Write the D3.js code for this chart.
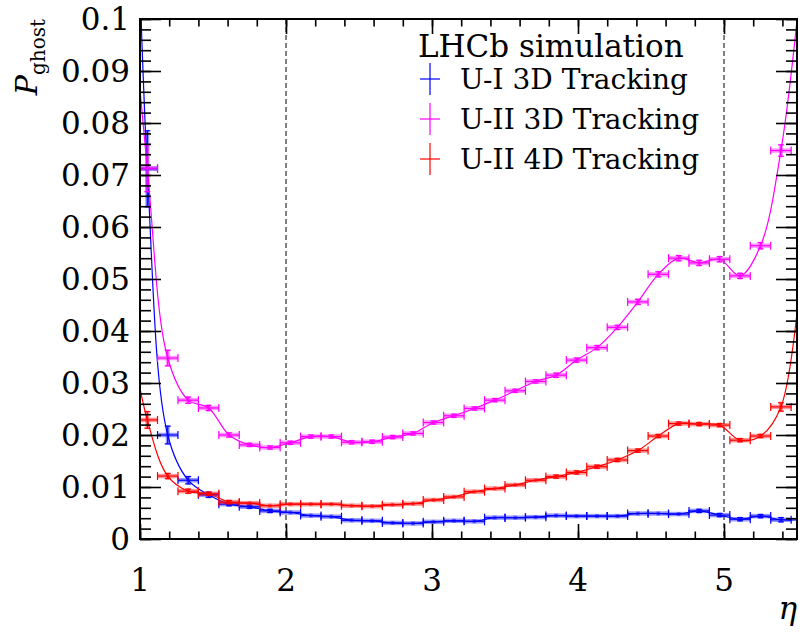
<!DOCTYPE html>
<html><head><meta charset="utf-8">
<script src="https://cdn.jsdelivr.net/npm/d3@7"></script>
<style>body{margin:0;background:#fff} text{font-family:"DejaVu Serif","Liberation Serif","Times New Roman",Times,serif;}</style>
</head><body><svg id="c" width="806" height="632"></svg>
<script>
// ---- data (bin centres in eta, bin width 0.14) ----
const etaBins = [0.91,1.05,1.19,1.33,1.47,1.61,1.75,1.89,2.03,2.17,2.31,2.45,2.59,2.73,2.87,3.01,3.15,3.29,3.43,3.57,3.71,3.85,3.99,4.13,4.27,4.41,4.55,4.69,4.83,4.97,5.11,5.25,5.39,5.53];
const binWidth = 0.14;
const u1_3d    = [0.200,0.0712,0.0200,0.0113,0.0085,0.0067,0.0062,0.0054,0.0051,0.0045,0.0043,0.0036,0.0035,0.0031,0.0030,0.0033,0.0035,0.0034,0.0041,0.0041,0.0042,0.0045,0.0044,0.0044,0.0044,0.0049,0.0049,0.0048,0.0054,0.0046,0.0038,0.0044,0.0037,0.0037];
const u1_3dErr = [0,0.0073,0.0017,0.0007,0.0005,0.0003,0.0003,0.0003,0.0002,0.0002,0.0002,0.0002,0.0002,0.0002,0.0002,0.0002,0.0002,0.0002,0.0002,0.0002,0.0002,0.0002,0.0002,0.0002,0.0002,0.0002,0.0002,0.0002,0.0003,0.0003,0.0003,0.0003,0.0004,0.0004];
const u2_3d    = [0.115,0.0713,0.0348,0.0267,0.0252,0.0200,0.0181,0.0176,0.0185,0.0197,0.0197,0.0186,0.0187,0.0196,0.0203,0.0224,0.0237,0.0251,0.0267,0.0285,0.0303,0.0315,0.0344,0.0368,0.0407,0.0456,0.0509,0.0540,0.0531,0.0538,0.0506,0.0564,0.0747,0.108];
const u2_3dErr = [0,0.0045,0.0015,0.0006,0.0005,0.0004,0.0003,0.0003,0.0003,0.0003,0.0003,0.0003,0.0003,0.0003,0.0003,0.0003,0.0003,0.0003,0.0003,0.0003,0.0003,0.0004,0.0004,0.0004,0.0004,0.0005,0.0005,0.0005,0.0005,0.0005,0.0005,0.0006,0.0011,0.0015];
const u2_4d    = [0.043,0.0229,0.0121,0.0092,0.0087,0.0071,0.0069,0.0064,0.0067,0.0067,0.0067,0.0064,0.0063,0.0066,0.0068,0.0075,0.0081,0.0091,0.0097,0.0104,0.0113,0.0120,0.0128,0.0139,0.0152,0.0170,0.0198,0.0222,0.0221,0.0219,0.0190,0.0198,0.0254,0.052];
const u2_4dErr = [0,0.0016,0.0005,0.0004,0.0003,0.0003,0.0002,0.0002,0.0002,0.0002,0.0002,0.0002,0.0002,0.0002,0.0002,0.0002,0.0002,0.0002,0.0002,0.0002,0.0002,0.0003,0.0003,0.0003,0.0003,0.0003,0.0003,0.0003,0.0003,0.0003,0.0003,0.0003,0.0008,0.0010];
const seriesNames  = ["U-I 3D Tracking","U-II 3D Tracking","U-II 4D Tracking"];
const seriesColors = ["#0000ff","#ff00ff","#ff0000"];
const xTickValues = [1,2,3,4,5];
const xTickLabels = ["1","2","3","4","5"];
const yTickValues = [0,0.01,0.02,0.03,0.04,0.05,0.06,0.07,0.08,0.09,0.1];
const yTickLabels = ["0","0.01","0.02","0.03","0.04","0.05","0.06","0.07","0.08","0.09","0.1"];
const dashedEta = [2,5];
const legendTitle = "LHCb simulation";

// ---- layout ----
const W=806,H=632,L=140,R=797,T=19,B=539;
const FS=31;
const x=d3.scaleLinear().domain([1,5.5]).range([L,R]);
const y=d3.scaleLinear().domain([0,0.1]).range([B,T]);
const svg=d3.select('#c');
svg.append('rect').attr('width',W).attr('height',H).attr('fill','#fff');
svg.append('defs').append('clipPath').attr('id','clip').append('rect')
  .attr('x',L).attr('y',T).attr('width',R-L).attr('height',B-T);

// dashed lines
svg.selectAll('.dash').data(dashedEta).enter().append('line')
  .attr('x1',d=>x(d)).attr('x2',d=>x(d)).attr('y1',T).attr('y2',B)
  .attr('stroke','#000').attr('stroke-width',1).attr('stroke-dasharray','5,3');

// series
const series=[{v:u1_3d,e:u1_3dErr},{v:u2_3d,e:u2_3dErr},{v:u2_4d,e:u2_4dErr}];
series.forEach((s,si)=>{
  const col=seriesColors[si];
  const gs=svg.append('g').attr('clip-path','url(#clip)');
  const pts=etaBins.map((e,i)=>({e,v:s.v[i],err:s.e[i]}));
  const line=d3.line().x(d=>x(d.e)).y(d=>y(d.v)).curve(d3.curveCatmullRom.alpha(0.5));
  gs.append('path').attr('d',line(pts)).attr('fill','none').attr('stroke',col).attr('stroke-width',1.2);
  const vis=pts.filter(d=>d.e+binWidth/2>1 && d.e<5.5);
  vis.forEach(d=>{
    const cx=x(d.e),x0=x(d.e-binWidth/2),x1=x(d.e+binWidth/2),cy=y(d.v);
    const ey=Math.abs(y(d.v+d.err)-cy);
    const g=gs.append('g');
    g.append('line').attr('x1',x0).attr('x2',x1).attr('y1',cy).attr('y2',cy)
      .attr('stroke',col).attr('stroke-opacity',0.4).attr('stroke-width',4.5);
    g.append('line').attr('x1',cx).attr('x2',cx).attr('y1',cy-ey-1).attr('y2',cy+ey+1)
      .attr('stroke',col).attr('stroke-opacity',0.4).attr('stroke-width',4);
    g.append('line').attr('x1',x0).attr('x2',x1).attr('y1',cy).attr('y2',cy).attr('stroke',col).attr('stroke-width',1.2);
    [x0,x1].forEach(xx=>g.append('line').attr('x1',xx).attr('x2',xx).attr('y1',cy-4).attr('y2',cy+4).attr('stroke',col).attr('stroke-width',1.2));
    g.append('line').attr('x1',cx).attr('x2',cx).attr('y1',cy-ey).attr('y2',cy+ey).attr('stroke',col).attr('stroke-width',1.2);
    if(ey>1.5){[cy-ey,cy+ey].forEach(yy=>g.append('line').attr('x1',cx-3).attr('x2',cx+3).attr('y1',yy).attr('y2',yy).attr('stroke',col).attr('stroke-width',1.2));}
  });
});

// axes ticks (inward, mirrored)
const xMinor=d3.range(1,5.5001,0.2);
const yMinor=d3.range(0,0.1001,0.002);
function ax(gen,vals,size,tr){
  const g=svg.append('g').attr('transform',tr).call(gen.tickValues(vals).tickSize(size).tickFormat(''));
  g.select('.domain').remove();
  g.selectAll('line').attr('stroke','#000').attr('stroke-width',1.6);
}
ax(d3.axisBottom(x),xMinor,-7.5,`translate(0,${B})`);
ax(d3.axisBottom(x),xTickValues,-15,`translate(0,${B})`);
ax(d3.axisTop(x),xMinor,-7.5,`translate(0,${T})`);
ax(d3.axisTop(x),xTickValues,-15,`translate(0,${T})`);
ax(d3.axisLeft(y),yMinor,-11,`translate(${L},0)`);
ax(d3.axisLeft(y),yTickValues,-21,`translate(${L},0)`);
ax(d3.axisRight(y),yMinor,-11,`translate(${R},0)`);
ax(d3.axisRight(y),yTickValues,-21,`translate(${R},0)`);
svg.append('rect').attr('x',L).attr('y',T).attr('width',R-L).attr('height',B-T)
  .attr('fill','none').attr('stroke','#000').attr('stroke-width',2);

// tick labels
svg.selectAll('.xl').data(xTickValues).enter().append('text')
  .attr('x',d=>x(d)).attr('y',591).attr('text-anchor','middle')
  .attr('font-size',FS).text((d,i)=>xTickLabels[i]);
svg.selectAll('.yl').data(yTickValues).enter().append('text')
  .attr('x',130).attr('y',d=>y(d)+11).attr('text-anchor','end')
  .attr('font-size',FS).text((d,i)=>yTickLabels[i]);

// axis titles
svg.append('text').attr('x',797).attr('y',619).attr('text-anchor','end')
  .attr('font-size',FS).attr('font-style','italic').text('η');
const yt=svg.append('text').attr('transform','translate(37,19) rotate(-90)').attr('text-anchor','end');
yt.append('tspan').attr('font-size',30).attr('font-style','italic').text('P');
yt.append('tspan').attr('font-size',20).attr('dy',8).text('ghost');

// legend
svg.append('text').attr('x',418).attr('y',57).attr('font-size',FS).text(legendTitle);
seriesNames.forEach((n,i)=>{
  const cy=79+i*40;
  const col=seriesColors[i];
  svg.append('line').attr('x1',420).attr('x2',440).attr('y1',cy).attr('y2',cy).attr('stroke',col).attr('stroke-opacity',0.6).attr('stroke-width',2);
  svg.append('line').attr('x1',430).attr('x2',430).attr('y1',cy-16).attr('y2',cy+16).attr('stroke',col).attr('stroke-opacity',0.6).attr('stroke-width',2);
  svg.append('text').attr('x',460).attr('y',cy+10).attr('font-size',28).text(n);
});
</script></body></html>
